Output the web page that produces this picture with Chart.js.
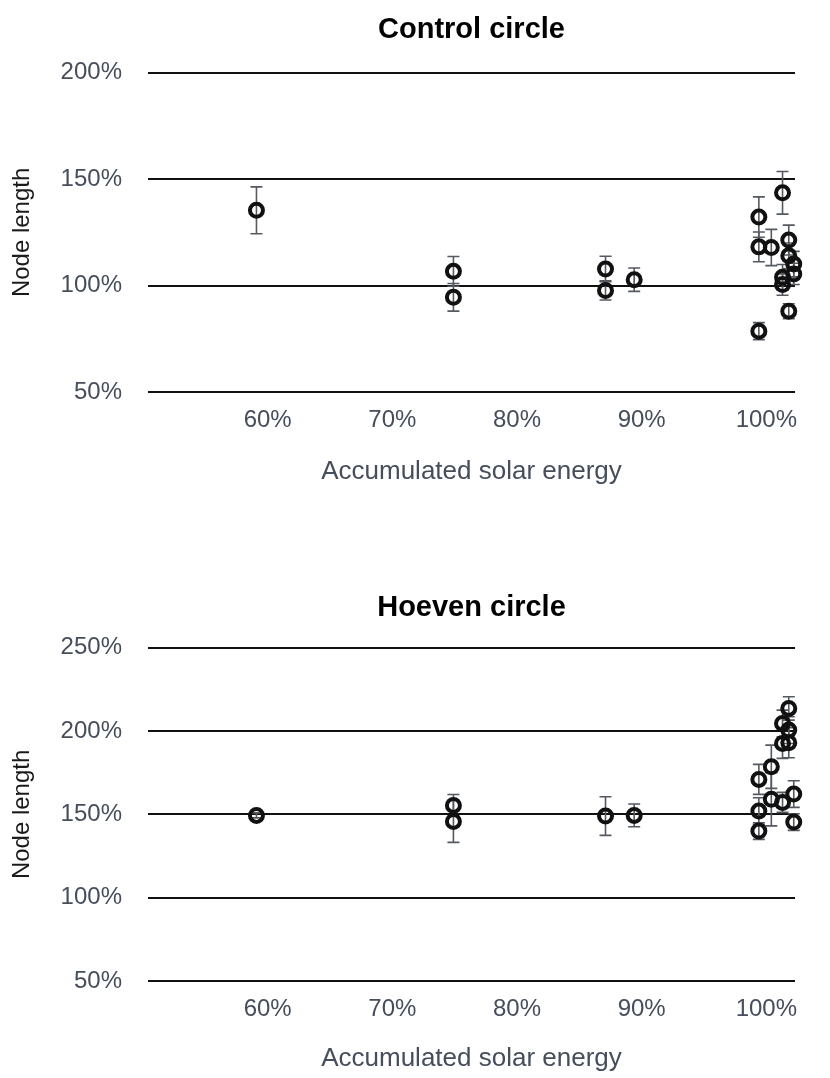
<!DOCTYPE html>
<html lang="en">
<head>
<meta charset="UTF-8">
<title>Node length vs accumulated solar energy</title>
<script src="https://cdn.jsdelivr.net/npm/chart.js"></script>
<style>
  body { margin: 0; background: #fff; }
  canvas { display: block; }
</style>
</head>
<body>
<canvas id="controlChart" width="830" height="540"></canvas>
<canvas id="hoevenChart" width="830" height="538"></canvas>
<script>
// x ticks shared by both panels (accumulated solar energy, %)
const energyTicks = [60, 70, 80, 90, 100];

// Control circle
const controlEnergy = [59.1, 74.9, 74.9, 87.1, 87.1, 89.4, 99.4, 99.4, 99.4, 100.4, 101.3, 101.3, 101.3, 101.8, 101.8, 101.8, 102.2, 102.2];
const controlLength = [135.4, 106.7, 94.5, 107.8, 97.7, 102.8, 132.2, 118.2, 78.6, 117.9, 143.6, 103.9, 100.5, 121.4, 114, 88, 110.1, 105.5];
const controlError  = [11, 7, 6.5, 6, 4.5, 5.5, 9.5, 7, 4, 8.5, 10, 6, 5, 7, 6, 3.5, 6, 5];
const controlTicks  = [50, 100, 150, 200];

// Hoeven circle
const hoevenEnergy = [59.1, 74.9, 74.9, 87.1, 89.4, 99.4, 99.4, 99.4, 100.4, 100.4, 101.3, 101.3, 101.3, 101.8, 101.8, 101.8, 102.2, 102.2];
const hoevenLength = [149.4, 155.4, 145.8, 149, 149.4, 171, 152, 140, 178.6, 159.1, 204.6, 192.6, 157.2, 213.6, 200.6, 193, 162.2, 145.4];
const hoevenError  = [1.5, 6.5, 12.6, 11.6, 6.8, 9, 8, 5, 13, 16, 8, 9, 6, 7, 8, 9, 8, 5];
const hoevenTicks  = [50, 100, 150, 200, 250];

const tickColor = '#464d5b';
const fontFamily = "'Liberation Sans', Arial, Helvetica, sans-serif";

// draws the vertical error bars under the rings
const errorBars = {
  id: 'errorBars',
  beforeDatasetsDraw(chart) {
    const ctx = chart.ctx;
    const x = chart.scales.x, y = chart.scales.y;
    ctx.save();
    ctx.strokeStyle = '#555a62';
    ctx.lineWidth = 1.6;
    chart.data.datasets.forEach(ds => {
      ds.data.forEach(p => {
        const px = x.getPixelForValue(p.x);
        const top = y.getPixelForValue(p.y + p.err);
        const bot = y.getPixelForValue(p.y - p.err);
        ctx.beginPath();
        ctx.moveTo(px, top); ctx.lineTo(px, bot);
        ctx.moveTo(px - 6, top); ctx.lineTo(px + 6, top);
        ctx.moveTo(px - 6, bot); ctx.lineTo(px + 6, bot);
        ctx.stroke();
      });
    });
    ctx.restore();
  }
};

function makeChart(id, title, xs, ys, errs, yTicks, geo) {
  const points = xs.map((v, i) => ({ x: v, y: ys[i], err: errs[i] }));
  return new Chart(document.getElementById(id), {
    type: 'scatter',
    data: {
      datasets: [{
        data: points,
        pointRadius: 6.5,
        pointBorderWidth: 4,
        borderColor: '#111',
        backgroundColor: 'rgba(0,0,0,0)',
        clip: false
      }]
    },
    options: {
      responsive: false,
      animation: false,
      layout: { padding: { right: 35 } },
      plugins: {
        legend: { display: false },
        tooltip: { enabled: false },
        title: {
          display: true,
          fullSize: false,
          text: title,
          color: '#000',
          font: { family: fontFamily, size: 29, weight: 'bold' },
          padding: { top: geo.titleTop, bottom: geo.titleBottom }
        }
      },
      scales: {
        x: {
          type: 'linear',
          min: 50.4,
          max: 102.3,
          afterBuildTicks: s => { s.ticks = energyTicks.map(v => ({ value: v })); },
          afterFit: s => { s.height = geo.xHeight; },
          grid: { display: false },
          border: { display: false },
          ticks: {
            padding: 6,
            color: tickColor,
            font: { family: fontFamily, size: 24 },
            callback: v => v + '%'
          },
          title: {
            display: true,
            text: 'Accumulated solar energy',
            color: tickColor,
            font: { family: fontFamily, size: 26 },
            padding: { top: 0, bottom: geo.xTitleBottom }
          }
        },
        y: {
          type: 'linear',
          min: yTicks[0],
          max: yTicks[yTicks.length - 1],
          afterBuildTicks: s => { s.ticks = yTicks.map(v => ({ value: v })); },
          afterFit: s => { s.width = 148; },
          grid: { color: '#111', lineWidth: 2, drawTicks: false },
          border: { display: false },
          ticks: {
            padding: 26,
            color: tickColor,
            font: { family: fontFamily, size: 24 },
            callback: v => v + '%'
          },
          title: {
            display: true,
            text: 'Node length',
            color: '#1a1a1a',
            font: { family: fontFamily, size: 24 },
            padding: { top: 8, bottom: 0 }
          }
        }
      }
    },
    plugins: [errorBars]
  });
}

makeChart('controlChart', 'Control circle', controlEnergy, controlLength, controlError, controlTicks,
  { titleTop: 13, titleBottom: 25, xHeight: 148, xTitleBottom: 53 });
makeChart('hoevenChart', 'Hoeven circle', hoevenEnergy, hoevenLength, hoevenError, hoevenTicks,
  { titleTop: 51, titleBottom: 22, xHeight: 97, xTitleBottom: 4 });
</script>
</body>
</html>
